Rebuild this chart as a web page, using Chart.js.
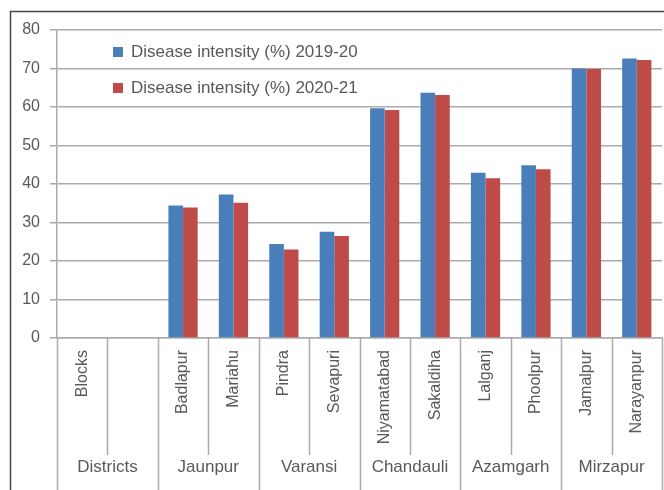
<!DOCTYPE html>
<html>
<head>
<meta charset="utf-8">
<script src="https://cdn.jsdelivr.net/npm/chart.js@4/dist/chart.umd.min.js"></script>
<style>
  html, body { margin: 0; padding: 0; background: #fff; }
  #wrap { width: 664px; height: 490px; }
</style>
</head>
<body>
<div id="wrap"><canvas id="chart" width="664" height="490"></canvas></div>
<script>
// data
const blocks = ['Blocks', '', 'Badlapur', 'Mariahu', 'Pindra', 'Sevapuri', 'Niyamatabad',
                'Sakaldiha', 'Lalganj', 'Phoolpur', 'Jamalpur', 'Narayanpur'];
const districts = ['Districts', 'Jaunpur', 'Varansi', 'Chandauli', 'Azamgarh', 'Mirzapur'];
const districtSpan = [2, 2, 2, 2, 2, 2];
const intensity2019 = [null, null, 34.4, 37.3, 24.4, 27.6, 59.7, 63.7, 42.9, 44.9, 70.0, 72.6];
const intensity2020 = [null, null, 33.9, 35.1, 23.0, 26.5, 59.2, 63.1, 41.5, 43.8, 69.9, 72.2];
const seriesNames = ['Disease intensity (%) 2019-20', 'Disease intensity (%) 2020-21'];
const yMin = 0, yMax = 80, yStep = 10;

const FONT = "'Liberation Sans', Arial, sans-serif";
const textColor = '#595959';
const gridColor = '#ababab';

// district row, separators, legend and outer frame
const groupAxis = {
    id: 'groupAxis',
    afterDraw(chart) {
        const ctx = chart.ctx;
        const area = chart.chartArea;
        const x = chart.scales.x;
        const step = x.getPixelForValue(1) - x.getPixelForValue(0);
        const start = x.getPixelForValue(0) - step / 2;

        const bounds = new Set([0]);
        let acc = 0;
        districtSpan.forEach(s => { acc += s; bounds.add(acc); });

        ctx.save();
        ctx.strokeStyle = gridColor;
        ctx.lineWidth = 1.5;
        for (let i = 0; i <= blocks.length; i++) {
            const px = Math.round(start + i * step) + 0.5;
            ctx.beginPath();
            ctx.moveTo(px, area.bottom);
            ctx.lineTo(px, bounds.has(i) ? chart.height : area.bottom + 117);
            ctx.stroke();
        }

        ctx.fillStyle = textColor;
        ctx.font = '17px ' + FONT;
        ctx.textAlign = 'center';
        ctx.textBaseline = 'middle';
        let idx = 0;
        districts.forEach((d, k) => {
            const cx = start + (idx + districtSpan[k] / 2) * step;
            ctx.fillText(d, cx, 467);
            idx += districtSpan[k];
        });

        // legend inside the plot
        const colors = chart.data.datasets.map(ds => ds.backgroundColor);
        ctx.textAlign = 'left';
        seriesNames.forEach((name, k) => {
            const ly = 52 + k * 36;
            ctx.fillStyle = colors[k];
            ctx.fillRect(113, ly - 5, 10, 10);
            ctx.fillStyle = textColor;
            ctx.fillText(name, 131, ly);
        });

        // outer frame
        ctx.strokeStyle = '#444';
        ctx.lineWidth = 1.5;
        ctx.beginPath();
        ctx.moveTo(10.5, chart.height);
        ctx.lineTo(10.5, 11.5);
        ctx.lineTo(chart.width, 11.5);
        ctx.stroke();
        ctx.restore();
    }
};

new Chart(document.getElementById('chart'), {
    type: 'bar',
    data: {
        labels: blocks,
        datasets: [
            { label: seriesNames[0], data: intensity2019, backgroundColor: '#4a7ebb' },
            { label: seriesNames[1], data: intensity2020, backgroundColor: '#be4b48' }
        ]
    },
    options: {
        responsive: false,
        animation: false,
        layout: { padding: { top: 30, right: 2, left: 0, bottom: 0 } },
        datasets: { bar: { barPercentage: 1, categoryPercentage: 0.58 } },
        plugins: { legend: { display: false }, tooltip: { enabled: false } },
        scales: {
            x: {
                grid: { display: false, drawTicks: false },
                border: { display: true, color: gridColor, width: 1.5 },
                ticks: {
                    autoSkip: false,
                    minRotation: 90,
                    maxRotation: 90,
                    padding: 12,
                    color: textColor,
                    font: { family: FONT, size: 16 }
                },
                afterFit(scale) {
                    scale.height = 152;
                    scale.paddingLeft = 0;
                    scale.paddingRight = 0;
                }
            },
            y: {
                min: yMin,
                max: yMax,
                grid: { color: gridColor, lineWidth: 1.5, tickLength: 7 },
                border: { display: true, color: gridColor, width: 1.5 },
                ticks: {
                    stepSize: yStep,
                    padding: 10,
                    color: textColor,
                    font: { family: FONT, size: 16 }
                },
                afterFit(scale) { scale.width = 57; }
            }
        }
    },
    plugins: [groupAxis]
});
</script>
</body>
</html>
